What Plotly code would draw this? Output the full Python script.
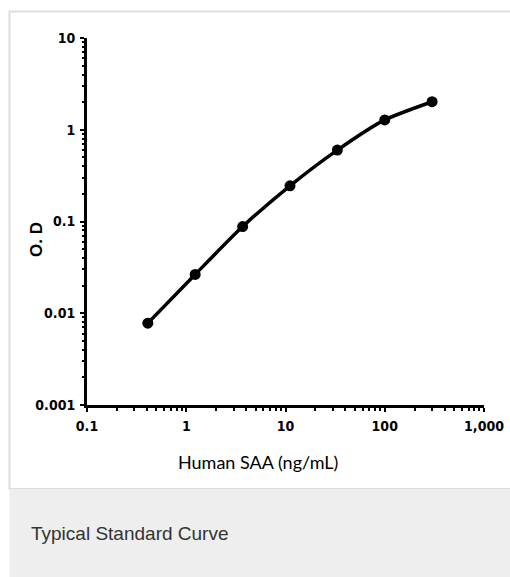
import plotly.graph_objects as go

# Data
conc = [0.41, 1.23, 3.7, 11.1, 33.3, 100, 300]
od = [0.0078, 0.0265, 0.088, 0.245, 0.60, 1.28, 2.02]

x_tickvals = [0.1, 1, 10, 100, 1000]
x_ticktext = ["0.1", "1", "10", "100", "1,000"]
y_tickvals = [0.001, 0.01, 0.1, 1, 10]
y_ticktext = ["0.001", "0.01", "0.1", "1", "10"]

W, H = 510, 577


def fx(px):
    return px / W


def fy(py):
    return 1 - py / H


minor_x = [m * 10 ** e for e in range(-1, 3) for m in range(2, 10)]
minor_y = [m * 10 ** e for e in range(-3, 1) for m in range(2, 10)]

tick_font = dict(family="Liberation Sans Narrow, DejaVu Sans Condensed, Liberation Sans, Arial",
                 size=14, color="black", weight="bold")

fig = go.Figure()
fig.add_trace(go.Scatter(
    x=conc, y=od, mode="lines+markers",
    line=dict(color="black", width=3.5, shape="spline", smoothing=0.6),
    marker=dict(color="black", size=11),
    showlegend=False, hoverinfo="skip",
))

fig.update_layout(
    template="none",
    width=W, height=H,
    margin=dict(l=0, r=0, t=0, b=0, autoexpand=False),
    paper_bgcolor="white", plot_bgcolor="rgba(0,0,0,0)",
    xaxis=dict(
        type="log", range=[-1, 3], domain=[fx(87), fx(484)],
        automargin=False,
        showline=True, linecolor="black", linewidth=3,
        showgrid=False, zeroline=False,
        tickmode="array", tickvals=x_tickvals, ticktext=x_ticktext,
        ticks="outside", ticklen=4, tickwidth=2, tickcolor="black",
        tickfont=tick_font, ticklabelstandoff=2,
        minor=dict(tickmode="array", tickvals=minor_x, ticks="outside", ticklen=3, tickwidth=2, tickcolor="black", showgrid=False),
        anchor="y",
    ),
    yaxis=dict(
        type="log", range=[-3, 1], domain=[fy(405), fy(38)],
        automargin=False,
        showline=True, linecolor="black", linewidth=3,
        showgrid=False, zeroline=False,
        tickmode="array", tickvals=y_tickvals, ticktext=y_ticktext,
        ticks="outside", ticklen=4, tickwidth=2, tickcolor="black",
        tickfont=tick_font, ticklabelstandoff=2,
        minor=dict(tickmode="array", tickvals=minor_y, ticks="outside", ticklen=2, tickwidth=2, tickcolor="black", showgrid=False),
        anchor="x",
    ),
    shapes=[
        dict(type="rect", xref="paper", yref="paper", x0=fx(9.5), x1=1.05, y0=fy(489), y1=fy(11.5),
             line=dict(color="#dddddd", width=2), fillcolor="white", layer="below"),
        dict(type="rect", xref="paper", yref="paper", x0=fx(9.5), x1=1.05, y0=-0.05, y1=fy(489),
             line=dict(width=0), fillcolor="#edeeed", layer="below"),
    ],
    annotations=[
        dict(text="Human SAA (ng/mL)", xref="paper", yref="paper", x=fx(258), y=fy(462),
             showarrow=False, xanchor="center", yanchor="middle",
             font=dict(family="Lato, Open Sans, sans-serif", size=18, color="black")),
        dict(text="<b>O. D</b>", xref="paper", yref="paper", x=fx(36), y=fy(240), textangle=-90,
             showarrow=False, xanchor="center", yanchor="middle",
             font=dict(family="Liberation Sans, Arial", size=17, color="black")),
        dict(text="Typical Standard Curve", xref="paper", yref="paper", x=fx(29), y=fy(533),
             showarrow=False, xanchor="left", yanchor="middle",
             font=dict(family="Liberation Sans, Arial", size=19, color="#333333")),
    ],
)

fig.write_html("out.html", config={"displayModeBar": False})

# remove the default page margin so the figure sits exactly in the window
with open("out.html", "r", encoding="utf-8") as f:
    html = f.read()
style = "<style>html,body{margin:0 !important;padding:0 !important;overflow:hidden;}</style>"
if "</head>" in html:
    html = html.replace("</head>", style + "</head>", 1)
else:
    html = style + html
with open("out.html", "w", encoding="utf-8") as f:
    f.write(html)
